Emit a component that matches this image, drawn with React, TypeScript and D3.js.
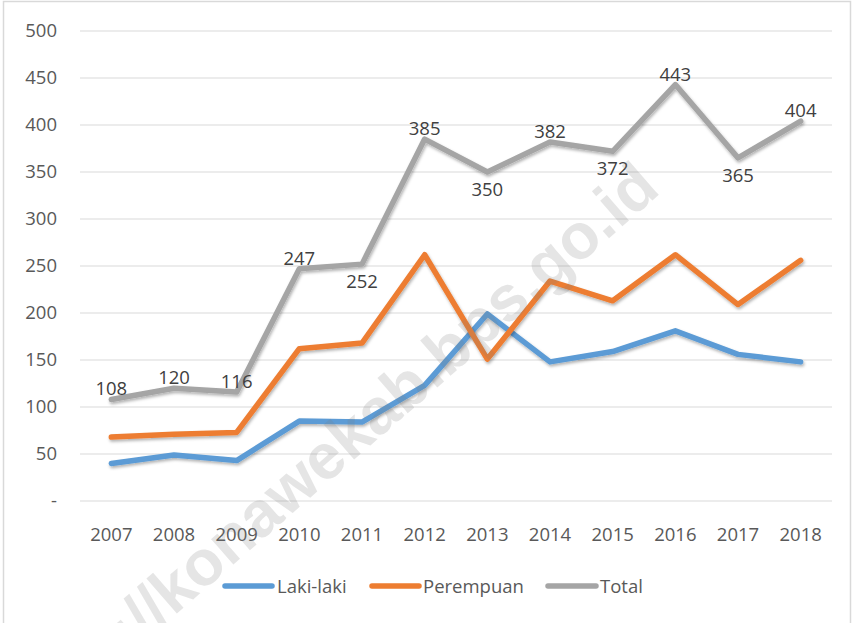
import React from "react";
import * as d3 from "d3";

const years = ["2007","2008","2009","2010","2011","2012","2013","2014","2015","2016","2017","2018"];
const lakiLaki = [40, 49, 43, 85, 84, 123, 199, 148, 159, 181, 156, 148];
const perempuan = [68, 71, 73, 162, 168, 262, 151, 234, 213, 262, 209, 256];
const total = [108, 120, 116, 247, 252, 385, 350, 382, 372, 443, 365, 404];
const totalLabelPlacement = ["above","above","above","above","below","above","below","above","below","above","below","above"];
const yTicks = [0, 50, 100, 150, 200, 250, 300, 350, 400, 450, 500];
const seriesNames = ["Laki-laki", "Perempuan", "Total"];

const W = 854, H = 623;
const FONT = "'Open Sans', 'DejaVu Sans', sans-serif";
const TEXT = "#595959";
const colors = ["#5B9BD5", "#ED7D31", "#A5A5A5"];

export default function App() {
  const x = d3.scaleBand<string>().domain(years).range([80, 832]).padding(0);
  const y = d3.scaleLinear().domain([0, 500]).range([501, 31]);
  const cx = (yr: string) => (x(yr) as number) + x.bandwidth() / 2;
  const line = d3.line<number>().x((_, i) => cx(years[i])).y((v) => y(v));
  const series = [lakiLaki, perempuan, total];

  const legendItems = [
    { x1: 225, x2: 272, tx: 277 },
    { x1: 372, x2: 419, tx: 423 },
    { x1: 548, x2: 596, tx: 600 },
  ];

  return (
    <svg width={W} height={H} style={{ position: "absolute", left: 0, top: 0, background: "#fff" }} fontFamily={FONT}>
      <defs>
        <filter id="sh" x="-10%" y="-10%" width="120%" height="130%">
          <feDropShadow dx="1" dy="2" stdDeviation="1.5" floodColor="#000" floodOpacity="0.3" />
        </filter>
      </defs>
      <rect x={0} y={0} width={W} height={H} fill="#fff" />
      <rect x={3.5} y={1.5} width={847} height={640} fill="none" stroke="#d9d9d9" strokeWidth={1.5} />
      {yTicks.map((t) => (
        <g key={t}>
          <line x1={80} x2={832} y1={y(t)} y2={y(t)} stroke="#d9d9d9" strokeWidth={1} />
          <text x={57} y={y(t)} dy="0.35em" textAnchor="end" fontSize={18.5} fill={TEXT}>
            {t === 0 ? "-" : t}
          </text>
        </g>
      ))}
      {years.map((yr) => (
        <text key={yr} x={cx(yr)} y={541} textAnchor="middle" fontSize={18.5} fill={TEXT}>
          {yr}
        </text>
      ))}
      {series.map((s, i) => (
        <path key={i} d={line(s) || ""} fill="none" stroke={colors[i]} strokeWidth={5.5}
          strokeLinejoin="round" strokeLinecap="round" filter="url(#sh)" />
      ))}
      {total.map((v, i) => (
        <text key={i} x={cx(years[i])} y={totalLabelPlacement[i] === "above" ? y(v) - 4 : y(v) + 24}
          textAnchor="middle" fontSize={18.5} fill="#404040">
          {v}
        </text>
      ))}
      {legendItems.map((l, i) => (
        <g key={i}>
          <line x1={l.x1} x2={l.x2} y1={586} y2={586} stroke={colors[i]} strokeWidth={5.5} strokeLinecap="round" />
          <text x={l.tx} y={593} fontSize={18.5} fill={TEXT}>{seriesNames[i]}</text>
        </g>
      ))}
      <text x={0} y={0} transform="translate(662,192) rotate(-41)" textAnchor="end"
        fontFamily="'Liberation Sans', Arial, sans-serif"
        fontWeight="bold" fontSize={64} fill="#7f7f7f" fillOpacity={0.2}>
        https://konawekab.bps.go.id
      </text>
    </svg>
  );
}
